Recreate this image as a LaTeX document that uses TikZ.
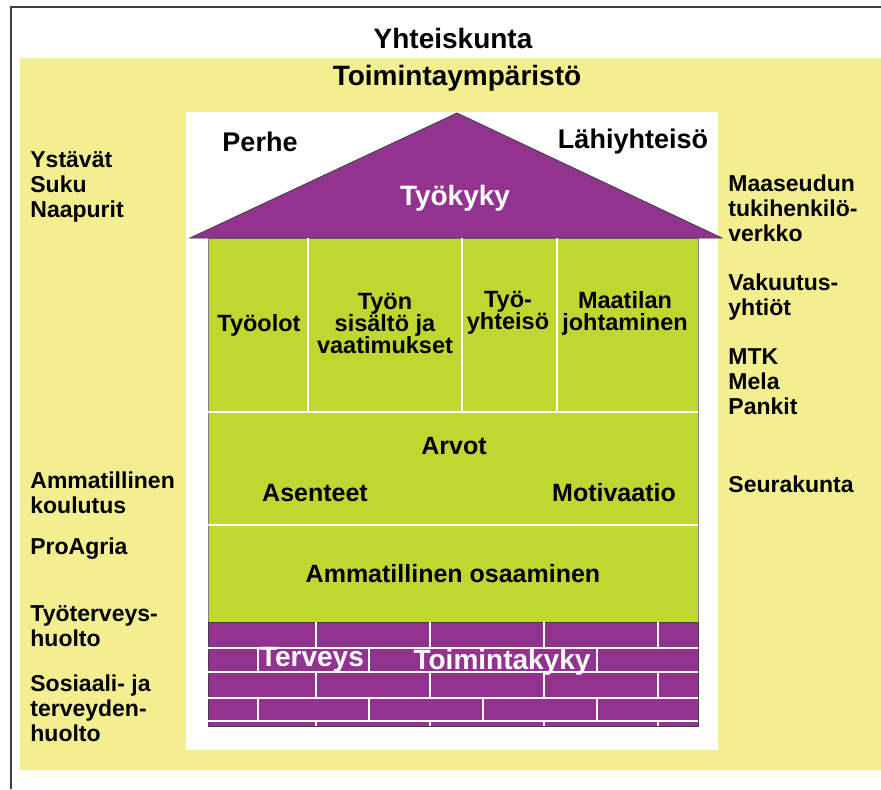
\documentclass[tikz,border=0pt]{standalone}
\usepackage{fontspec}
\setmainfont{Liberation Sans}
\definecolor{yell}{HTML}{F3EE8F}
\definecolor{grn}{HTML}{BFD730}
\definecolor{purp}{HTML}{92338F}

\begin{document}
\begin{tikzpicture}[x=0.5pt,y=-0.5pt,
  lbl/.style={font=\bfseries\fontsize{#1}{12.5}\selectfont,inner sep=0pt},
  side/.style={lbl=11.5,align=left,anchor=west},
  cell/.style={font=\bfseries\fontsize{11.75}{11}\selectfont,inner sep=0pt,align=center},
  mid/.style={lbl=12.5,align=center},
  head/.style={lbl=14,align=center},
  wline/.style={draw=white,line width=0.9pt}]
\useasboundingbox (0,0) rectangle (881,789);

% frame and background
\draw[line width=1.2pt,draw=darkgray] (11,789) -- (11,7) -- (881,7);
\fill[yell] (20,58) rectangle (881,770);
\fill[white] (186,112) rectangle (718,750);

% house
\filldraw[fill=grn,draw=gray,line width=0.4pt] (208,238) rectangle (698,622);
\filldraw[fill=purp,draw=darkgray,line width=0.4pt] (208,622) rectangle (698,726);
\filldraw[fill=purp,draw=darkgray,line width=0.4pt] (457,113) -- (722,238) -- (190,238) -- cycle;
\draw[wline] (208,412) -- (698,412);
\draw[wline] (208,525) -- (698,525);
\foreach \x in {308,462,557}
  \draw[wline] (\x,238) -- (\x,412);

% bricks
\foreach \y in {648,672,698,721}
  \draw[wline] (208,\y) -- (698,\y);
\foreach \x in {316,430,544,658} {
  \draw[wline] (\x,622) -- (\x,648);
  \draw[wline] (\x,672) -- (\x,698);
  \draw[wline] (\x,721) -- (\x,726);
}
\foreach \x in {258,369,597}
  \draw[wline] (\x,648) -- (\x,672);
\foreach \x in {258,369,483,597}
  \draw[wline] (\x,698) -- (\x,721);

% titles
\node[head] (Y) at (453,38) {Yhteiskunta};
\node[head] (T) at (457,78) {Toimintaympäristö};
\node[lbl=13.5] (Pe) at (260,142) {Perhe};
\node[lbl=13.5] (La) at (633,142) {Lähiyhteisö};
\node[head,text=white] (Tk) at (455,198) {Työkyky};

% walls
\node[cell] (A) at (259,325) {Työolot};
\node[cell] (B) at (385,323) {Työn\\sisältö ja\\vaatimukset};
\node[cell] (C) at (508,313) {Työ-\\yhteisö};
\node[cell] (D) at (625,313) {Maatilan\\johtaminen};
\node[mid] (Ar) at (454,446) {Arvot};
\node[mid] (As) at (315,493) {Asenteet};
\node[mid] (Mo) at (614,493) {Motivaatio};
\node[mid] (Ao) at (453,574) {Ammatillinen osaaminen};
\node[head,text=white] (Te) at (312,660) {Terveys};
\node[head,text=white] (Tt) at (502,662) {Toimintakyky};

% left side
\node[side] (L1) at (30,187) {Ystävät\\Suku\\Naapurit};
\node[side] (L2) at (30,493) {Ammatillinen\\koulutus};
\node[side] (L3) at (30,549) {ProAgria};
\node[side] (L4) at (30,626) {Työterveys-\\huolto};
\node[side] (L5) at (30,708) {Sosiaali- ja\\terveyden-\\huolto};

% right side
\node[side] (R1) at (728,208) {Maaseudun\\tukihenkilö-\\verkko};
\node[side] (R2) at (728,297) {Vakuutus-\\yhtiöt};
\node[side] (R3) at (728,382) {MTK\\Mela\\Pankit};
\node[side] (R4) at (728,484) {Seurakunta};

\end{tikzpicture}
\end{document}
